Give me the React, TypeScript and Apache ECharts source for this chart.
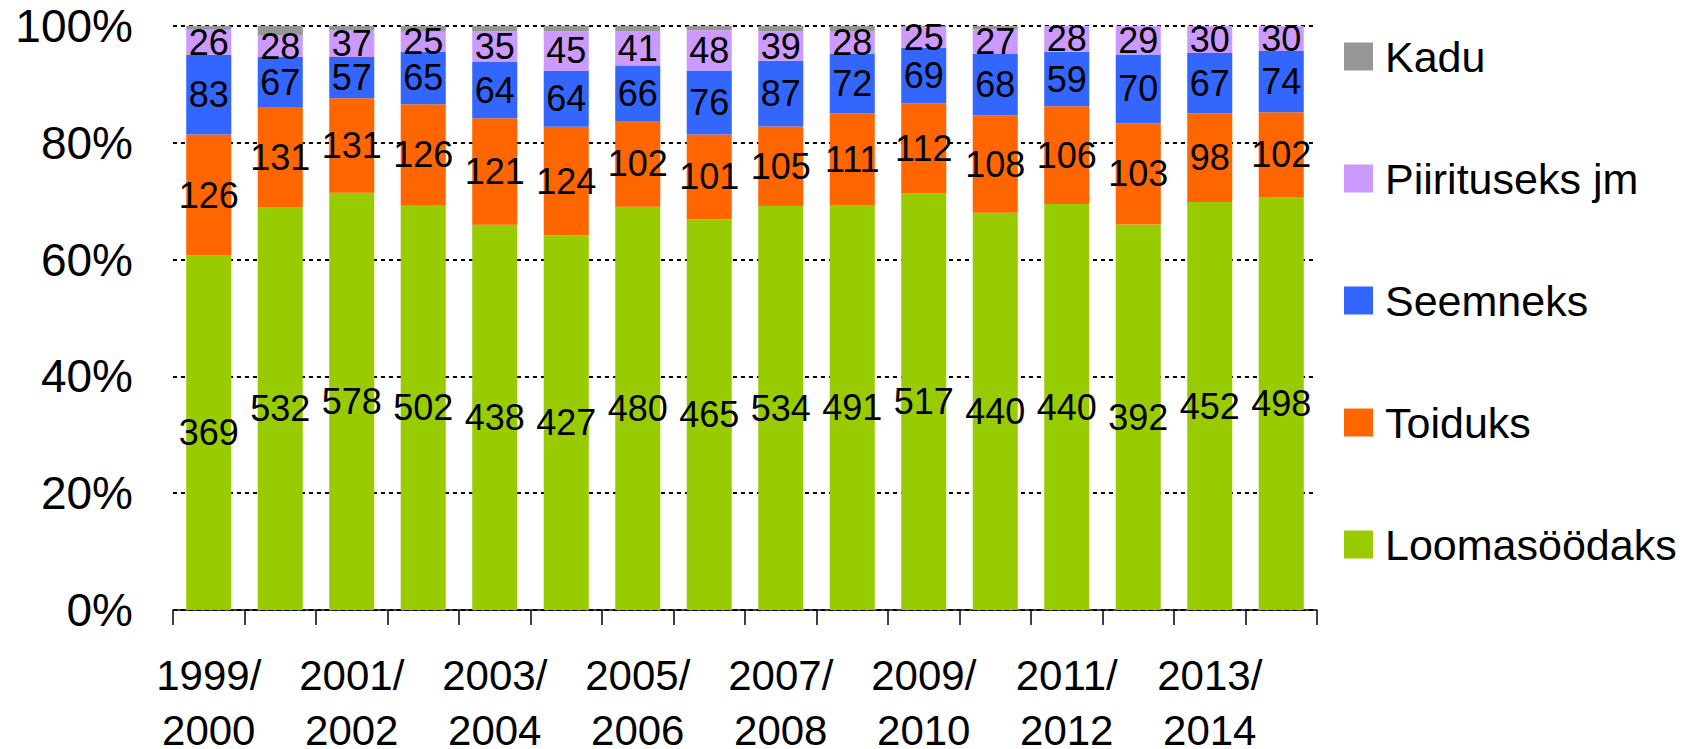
import React, { useEffect, useRef } from "react";
import * as echarts from "echarts";

const categories = [
  "1999/2000", "2000/2001", "2001/2002", "2002/2003", "2003/2004", "2004/2005",
  "2005/2006", "2006/2007", "2007/2008", "2008/2009", "2009/2010", "2010/2011",
  "2011/2012", "2012/2013", "2013/2014", "2014/2015",
];
const loomasoodaks = [369, 532, 578, 502, 438, 427, 480, 465, 534, 491, 517, 440, 440, 392, 452, 498];
const toiduks = [126, 131, 131, 126, 121, 124, 102, 101, 105, 111, 112, 108, 106, 103, 98, 102];
const seemneks = [83, 67, 57, 65, 64, 64, 66, 76, 87, 72, 69, 68, 59, 70, 67, 74];
const piirituseks = [26, 28, 37, 25, 35, 45, 41, 48, 39, 28, 25, 27, 28, 29, 30, 30];
const kadu = [4, 13, 6, 7, 6, 6, 6, 5, 7, 6, 2, 4, 0, 0, 0, 0];
const yTicks = [0, 20, 40, 60, 80, 100];

const seriesDefs = [
  { name: "Loomasöödaks", data: loomasoodaks, color: "#99CC00", label: true },
  { name: "Toiduks", data: toiduks, color: "#FF6600", label: true },
  { name: "Seemneks", data: seemneks, color: "#3366FF", label: true },
  { name: "Piirituseks jm", data: piirituseks, color: "#CC99FF", label: true },
  { name: "Kadu", data: kadu, color: "#969696", label: false },
];

const FONT = "'Liberation Sans', Arial, sans-serif";

export default function App() {
  const ref = useRef<HTMLDivElement>(null);
  useEffect(() => {
    if (!ref.current) return;
    const chart = echarts.init(ref.current, null, { renderer: "svg" });
    const totals = categories.map((_, i) =>
      seriesDefs.reduce((s, d) => s + d.data[i], 0)
    );
    const series = seriesDefs.map((d) => ({
      name: d.name,
      type: "bar",
      stack: "total",
      barCategoryGap: "37%",
      itemStyle: { color: d.color },
      label: {
        show: d.label,
        position: "inside",
        color: "#000",
        fontSize: 36,
        fontFamily: FONT,
        formatter: (p: any) => String(d.data[p.dataIndex]),
      },
      data: d.data.map((v, i) => (v / totals[i]) * 100),
    }));
    chart.setOption({
      animation: false,
      textStyle: { fontFamily: FONT },
      grid: {
        left: 173,
        right: 369,
        top: 26,
        bottom: 139,
        containLabel: false,
        outerBoundsMode: "none",
      },
      legend: {
        orient: "vertical",
        left: 1339,
        top: 30,
        itemWidth: 29,
        itemHeight: 28,
        itemGap: 79,
        icon: "rect",
        data: ["Kadu", "Piirituseks jm", "Seemneks", "Toiduks", "Loomasöödaks"],
        textStyle: { fontSize: 43, fontFamily: FONT, color: "#000", lineHeight: 43, padding: [0, 0, 0, 7] },
      },
      xAxis: {
        type: "category",
        data: categories,
        axisLine: { show: true, lineStyle: { color: "#000", width: 1.5 } },
        axisTick: { show: true, interval: 0, length: 15, lineStyle: { color: "#000", width: 1.5 } },
        axisLabel: {
          interval: 1,
          margin: 38,
          fontSize: 42,
          lineHeight: 55,
          color: "#000",
          fontFamily: FONT,
          formatter: (v: string) => v.replace("/", "/\n"),
        },
      },
      yAxis: {
        type: "value",
        min: yTicks[0],
        max: yTicks[yTicks.length - 1],
        interval: 20,
        axisLine: { show: false },
        axisTick: { show: false },
        axisLabel: {
          margin: 40,
          fontSize: 46,
          color: "#000",
          fontFamily: FONT,
          formatter: "{value}%",
        },
        splitLine: { show: true, lineStyle: { color: "#000", type: [4, 4], width: 2 } },
      },
      series,
    });
    return () => chart.dispose();
  }, []);
  return (
    <div
      ref={ref}
      style={{ position: "absolute", left: 0, top: 0, width: 1686, height: 749 }}
    />
  );
}
